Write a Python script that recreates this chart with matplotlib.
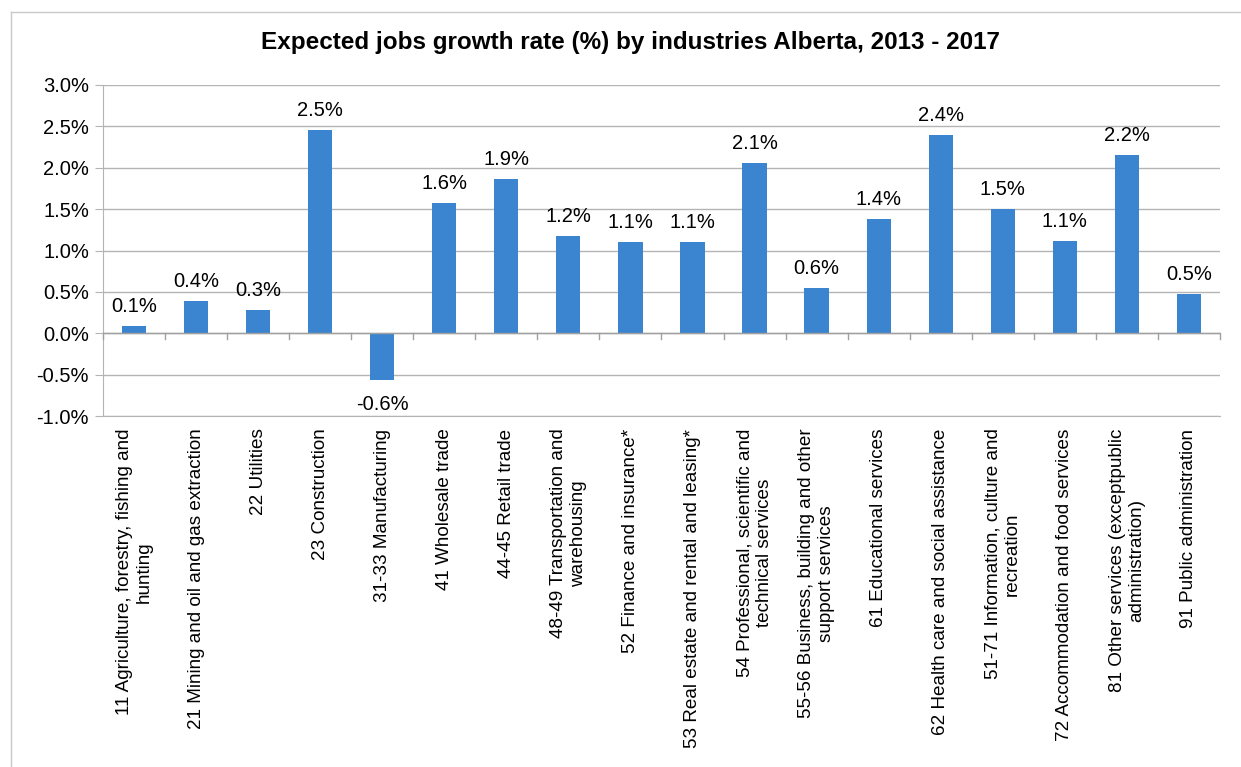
import matplotlib.pyplot as plt
from matplotlib.lines import Line2D
from matplotlib.ticker import FuncFormatter, MultipleLocator

plt.rcParams['font.family'] = ['Liberation Sans', 'DejaVu Sans']

industries = [
    "11 Agriculture, forestry, fishing and\nhunting",
    "21 Mining and oil and gas extraction",
    "22 Utilities",
    "23 Construction",
    "31-33 Manufacturing",
    "41 Wholesale trade",
    "44-45 Retail trade",
    "48-49 Transportation and\nwarehousing",
    "52 Finance and insurance*",
    "53 Real estate and rental and leasing*",
    "54 Professional, scientific and\ntechnical services",
    "55-56 Business, building and other\nsupport services",
    "61 Educational services",
    "62 Health care and social assistance",
    "51-71 Information, culture and\nrecreation",
    "72 Accommodation and food services",
    "81 Other services (exceptpublic\nadministration)",
    "91 Public administration",
]
growth = [0.09, 0.39, 0.28, 2.46, -0.57, 1.58, 1.86, 1.18, 1.10, 1.10,
          2.06, 0.55, 1.38, 2.40, 1.50, 1.12, 2.16, 0.48]

bar_color = "#3b84cf"
grid_color = "#b4b4b4"

fig = plt.figure(figsize=(12.41, 7.67), dpi=100)
ax = fig.add_axes([0.083, 0.4576, 0.9, 0.4316])

x = list(range(len(growth)))
bars = ax.bar(x, growth, width=0.39, color=bar_color, zorder=3)

ax.set_xlim(-0.5, len(growth) - 0.5)
ax.set_ylim(-1.0, 3.0)
ax.yaxis.set_major_locator(MultipleLocator(0.5))
ax.yaxis.set_major_formatter(FuncFormatter(lambda v, p: f"{v:.1f}%"))
ax.grid(axis="y", color=grid_color, linewidth=1, zorder=0)
ax.tick_params(axis="y", length=6, color=grid_color, labelsize=14.5, pad=4)

ax.set_xticks(x)
ax.set_xticklabels(industries, rotation=90, fontsize=13.6, ha="center",
                   va="top", multialignment="center")
ax.tick_params(axis="x", length=0, pad=9)

for side in ["top", "right"]:
    ax.spines[side].set_visible(False)
ax.spines["left"].set_color(grid_color)
ax.spines["bottom"].set_color(grid_color)

# zero axis with category separators
ax.axhline(0, color="#a0a0a0", linewidth=1, zorder=4)
for i in range(len(growth) + 1):
    ax.plot([i - 0.5, i - 0.5], [0, -0.07], color="#a0a0a0", linewidth=1,
            zorder=4, clip_on=False)

for rect, v in zip(bars, growth):
    cx = rect.get_x() + rect.get_width() / 2
    if v >= 0:
        ax.annotate(f"{v:.1f}%", (cx, v), xytext=(0, 14), textcoords="offset points",
                    ha="center", va="center", fontsize=14.5)
    else:
        ax.annotate(f"{v:.1f}%", (cx, v), xytext=(0, -17), textcoords="offset points",
                    ha="center", va="center", fontsize=14.5)

fig.suptitle("Expected jobs growth rate (%) by industries Alberta, 2013 - 2017",
             x=0.508, y=0.96, fontsize=17.5, fontweight="bold")

# outer chart border (top and left edges)
fig.add_artist(Line2D([0.009, 1.0], [0.984, 0.984], color="#c8c8c8", linewidth=1))
fig.add_artist(Line2D([0.009, 0.009], [0.0, 0.984], color="#c8c8c8", linewidth=1))

fig.savefig("out.png", dpi=100)
